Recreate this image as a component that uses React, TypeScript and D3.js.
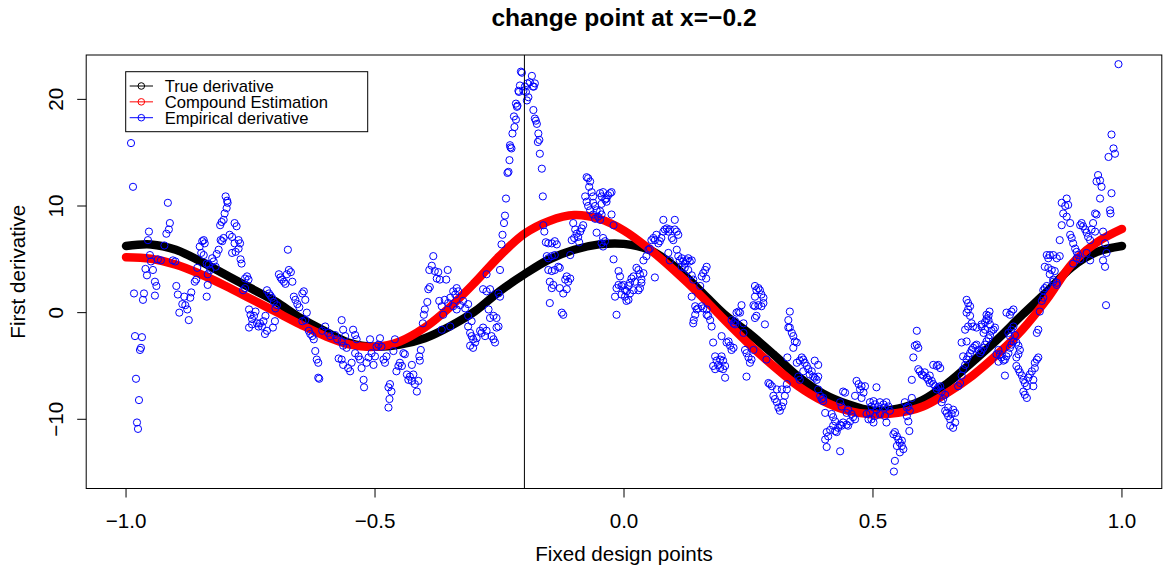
import React from "react";
import * as d3 from "d3";

// ---------- data ----------
const gridX = [
  -1, -0.95, -0.9, -0.85, -0.8, -0.75, -0.7, -0.65, -0.6, -0.55, -0.5, -0.45, -0.4, -0.35, -0.3, -0.25, -0.2,
  -0.15, -0.1, -0.05, 0, 0.05, 0.1, 0.15, 0.2, 0.25, 0.3, 0.35, 0.4, 0.45, 0.5, 0.55, 0.6, 0.65, 0.7, 0.75,
  0.8, 0.85, 0.9, 0.95, 1,
];
const trueDerivative = [
  6.25, 6.4, 5.9, 4.8, 3.55, 2.3, 1.05, -0.5, -1.75, -2.85, -3.2, -3.0, -2.4, -1.3, 0.1, 2.0, 3.6, 5.0, 5.9,
  6.4, 6.45, 5.9, 4.4, 2.2, -0.1, -1.9, -3.9, -6.0, -7.6, -8.6, -9.2, -9.0, -8.2, -6.6, -4.6, -2.5, -0.2,
  2.0, 4.3, 5.7, 6.25,
];
const compoundEstimation = [
  5.2, 5.05, 4.5, 3.6, 2.5, 1.3, 0.1, -1.1, -2.2, -3.0, -3.2, -2.7, -1.4, 0.5, 2.8, 5.3, 7.4, 8.6, 9.15, 8.8,
  7.7, 6.0, 4.0, 1.8, -0.6, -2.9, -5.0, -6.9, -8.3, -9.2, -9.55, -9.4, -8.8, -7.5, -5.9, -3.9, -1.6, 1.3,
  4.6, 6.6, 7.85,
];
const empirical: [number, number][] = [
  [-0.99, 15.9], [-0.986, 11.8], [-0.8, 10.9], [-0.797, 10.5],
  [-0.984, 1.8], [-0.982, -2.2], [-0.968, -2.3], [-0.97, -3.3], [-0.972, -3.5], [-0.98, -6.2], [-0.974, -8.2],
  [-0.978, -10.3], [-0.976, -10.9], [-0.964, 1.8], [-0.966, 1.2], [-0.961, 4.1], [-0.958, 3.5], [-0.954, 7.6],
  [-0.956, 6.8], [-0.952, 5.4], [-0.95, 4.8], [-0.946, 4.0], [-0.942, 2.9], [-0.939, 2.5], [-0.942, 1.6],
  [-0.936, 5.0], [-0.93, 4.9], [-0.923, 6.3], [-0.919, 7.4], [-0.914, 7.8], [-0.912, 8.4], [-0.916, 10.3],
  [-0.906, 4.9], [-0.901, 4.8], [-0.899, 2.5], [-0.896, 1.7], [-0.893, 0.0], [-0.887, 0.8], [-0.883, 1.5],
  [-0.881, 0.7], [-0.877, 0.3], [-0.874, -0.7], [-0.871, 1.4], [-0.869, 1.9], [-0.862, 2.9], [-0.859, 3.1],
  [-0.852, 6.2], [-0.847, 6.7], [-0.844, 6.8], [-0.842, 6.5], [-0.857, 4.2], [-0.849, 5.6], [-0.844, 5.4],
  [-0.838, 4.6], [-0.834, 4.5], [-0.836, 3.6], [-0.831, 4.0], [-0.836, 2.6], [-0.838, 1.5], [-0.827, 5.1],
  [-0.824, 4.8], [-0.82, 4.3], [-0.818, 5.5], [-0.814, 5.9], [-0.811, 8.2], [-0.808, 8.5], [-0.804, 8.7],
  [-0.802, 9.3], [-0.798, 9.8], [-0.796, 10.3], [-0.81, 6.8], [-0.807, 6.7], [-0.804, 7.0], [-0.792, 7.3],
  [-0.787, 7.1], [-0.782, 8.4], [-0.778, 8.1], [-0.774, 6.8], [-0.771, 6.5], [-0.782, 6.5], [-0.787, 5.6],
  [-0.78, 5.7], [-0.774, 6.0], [-0.77, 5.0], [-0.768, 4.6], [-0.761, 3.2], [-0.757, 3.4], [-0.754, 3.1],
  [-0.761, 2.3], [-0.765, 2.1], [-0.753, 0.3], [-0.75, -0.2], [-0.747, -0.6], [-0.743, -0.3], [-0.74, 0.1],
  [-0.737, -1.0], [-0.734, -1.3], [-0.753, -1.4], [-0.747, -1.1], [-0.731, -1.0], [-0.727, -1.3], [-0.724, -0.8],
  [-0.72, -0.3], [-0.717, 2.1], [-0.713, 1.8], [-0.71, 1.6], [-0.707, 1.4], [-0.703, 1.0], [-0.7, 0.4],
  [-0.697, 0.7], [-0.701, -0.8], [-0.705, -1.4], [-0.717, -1.7], [-0.721, -2.0], [-0.693, 3.6], [-0.69, 3.3],
  [-0.687, 3.1], [-0.683, 2.9], [-0.68, 2.7], [-0.677, 3.6], [-0.673, 4.0], [-0.669, 3.8], [-0.666, 2.9],
  [-0.675, 5.9], [-0.663, 1.5], [-0.66, 1.2], [-0.656, 0.8], [-0.652, 0.5], [-0.646, 1.8], [-0.643, 2.0],
  [-0.64, 1.2], [-0.637, 0.0], [-0.646, -0.8], [-0.64, -0.7], [-0.633, -1.7], [-0.63, -2.0], [-0.626, -2.2],
  [-0.623, -2.5], [-0.62, -3.6], [-0.617, -4.4], [-0.614, -4.7], [-0.612, -6.2], [-0.614, -6.1], [-0.606, -1.7],
  [-0.6, -1.3], [-0.594, -1.9], [-0.59, -2.2], [-0.58, -2.1], [-0.576, -2.5], [-0.573, -4.3],
  [-0.567, -0.7], [-0.564, -1.6], [-0.56, -2.2], [-0.544, -1.6], [-0.54, -2.1], [-0.537, -2.5], [-0.567, -2.7],
  [-0.564, -3.1], [-0.557, -3.3], [-0.567, -4.4], [-0.564, -4.9], [-0.554, -5.2], [-0.55, -5.5], [-0.547, -4.7],
  [-0.54, -3.8], [-0.533, -4.1], [-0.53, -4.4], [-0.527, -5.2], [-0.523, -6.3], [-0.522, -7.0], [-0.517, -4.7],
  [-0.513, -4.2], [-0.51, -2.5], [-0.507, -3.8], [-0.503, -4.9], [-0.5, -4.1], [-0.497, -3.2], [-0.493, -3.0],
  [-0.49, -2.4], [-0.487, -3.2], [-0.483, -4.4], [-0.48, -4.7], [-0.477, -4.1], [-0.473, -7.0], [-0.47, -6.7],
  [-0.467, -7.4], [-0.471, -8.1], [-0.473, -8.9], [-0.463, -3.6], [-0.46, -2.5], [-0.457, -5.5], [-0.453, -5.0],
  [-0.45, -4.7], [-0.446, -5.0], [-0.443, -3.8], [-0.44, -3.9], [-0.436, -5.8], [-0.433, -6.3], [-0.43, -6.0],
  [-0.426, -6.4], [-0.423, -5.8], [-0.42, -6.7], [-0.416, -7.4], [-0.413, -6.4], [-0.426, -4.9], [-0.41, -4.5],
  [-0.408, -3.5], [-0.411, -4.1], [-0.404, -1.0], [-0.402, -0.2], [-0.4, 0.3], [-0.395, 1.0], [-0.393, 2.2],
  [-0.39, 2.4], [-0.391, 4.0], [-0.386, 4.4], [-0.383, 5.3], [-0.38, 3.9], [-0.376, 3.2], [-0.373, 3.8],
  [-0.37, 3.1], [-0.354, 4.0], [-0.357, 3.1], [-0.371, 1.1], [-0.366, 0.6], [-0.363, -0.2], [-0.36, 1.2],
  [-0.353, 0.9], [-0.349, 1.4], [-0.343, 2.0], [-0.339, 1.7], [-0.336, 2.3], [-0.333, 2.0], [-0.343, 0.6],
  [-0.336, 0.3], [-0.329, 0.7], [-0.323, 1.1], [-0.319, 0.4], [-0.313, 0.8], [-0.366, -1.6], [-0.349, -1.3],
  [-0.313, -1.3], [-0.309, -1.9], [-0.306, -2.2], [-0.303, -2.5], [-0.299, -2.8], [-0.296, -2.4], [-0.289, -1.7],
  [-0.286, -1.9], [-0.283, -1.4], [-0.279, -2.2], [-0.276, -1.7], [-0.309, -3.1], [-0.303, -3.3], [-0.266, -2.2],
  [-0.262, -2.5], [-0.259, -2.8], [-0.256, -1.4], [-0.252, -1.3], [-0.272, 0.3], [-0.269, -0.5], [-0.262, -0.3],
  [-0.256, -0.5], [-0.313, -0.3], [-0.306, -0.8], [-0.283, 2.2], [-0.276, 2.0], [-0.269, 2.2], [-0.252, 1.8],
  [-0.249, 1.5], [-0.276, 3.6], [-0.249, 4.0],
  [-0.139, 5.4], [-0.145, 5.3], [-0.152, 5.1], [-0.155, 5.3], [-0.152, 4.0], [-0.145, 3.9], [-0.139, 4.0],
  [-0.132, 4.3], [-0.129, 4.2], [-0.149, 2.9], [-0.142, 2.6], [-0.145, 2.3], [-0.149, 0.9], [-0.129, 2.3],
  [-0.122, 1.8], [-0.115, 2.2], [-0.112, 2.9], [-0.108, 3.2], [-0.118, 3.1], [-0.115, 3.4], [-0.125, 0.0],
  [-0.122, -0.2], [-0.108, 5.4],
  [-0.246, 6.4], [-0.244, 7.3], [-0.241, 8.4], [-0.239, 9.1], [-0.237, 10.7], [-0.234, 13.1], [-0.232, 13.2],
  [-0.23, 14.3], [-0.228, 15.5], [-0.226, 15.4], [-0.229, 15.7], [-0.224, 16.8], [-0.22, 17.4], [-0.217, 18.1],
  [-0.221, 18.4], [-0.215, 19.3], [-0.214, 19.4], [-0.217, 19.6], [-0.211, 20.7], [-0.209, 21.3], [-0.212, 20.8],
  [-0.207, 22.6], [-0.205, 22.5], [-0.202, 20.8], [-0.199, 21.2], [-0.197, 20.7], [-0.195, 19.9], [-0.192, 20.2],
  [-0.194, 21.5], [-0.189, 21.6], [-0.185, 22.2], [-0.183, 21.2], [-0.181, 21.2], [-0.179, 21.5], [-0.182, 19.0],
  [-0.179, 18.2], [-0.177, 18.0], [-0.175, 17.7], [-0.172, 16.8], [-0.17, 16.2], [-0.173, 16.0], [-0.169, 14.9],
  [-0.165, 13.5], [-0.163, 10.9], [-0.162, 8.2], [-0.16, 7.6], [-0.157, 6.6], [-0.152, 6.5], [-0.145, 6.5],
  [-0.139, 6.7], [-0.135, 6.4], [-0.102, 8.4], [-0.098, 7.8], [-0.095, 7.4], [-0.092, 7.1], [-0.088, 7.6],
  [-0.085, 7.9], [-0.082, 8.2], [-0.105, 6.8], [-0.1, 7.0], [-0.09, 6.6], [-0.075, 12.7], [-0.072, 12.6],
  [-0.068, 12.3], [-0.07, 11.8], [-0.065, 11.3], [-0.062, 10.9], [-0.078, 10.9], [-0.075, 10.4], [-0.072, 10.0],
  [-0.068, 9.6], [-0.062, 10.3], [-0.058, 10.0], [-0.055, 9.6], [-0.062, 9.2], [-0.058, 8.8], [-0.052, 9.0],
  [-0.055, 7.5],
  [-0.048, 11.2], [-0.045, 10.9], [-0.042, 11.3], [-0.038, 10.6], [-0.035, 10.4], [-0.032, 11.0], [-0.028, 11.2],
  [-0.025, 11.3], [-0.035, 10.7], [-0.045, 10.2], [-0.048, 9.5], [-0.045, 9.2], [-0.048, 8.7], [-0.025, 9.2],
  [-0.021, 8.2], [-0.042, 7.0], [-0.038, 6.7], [-0.045, 6.5], [-0.042, 6.2], [-0.021, 5.0], [-0.011, 3.9],
  [-0.008, 3.4], [-0.015, 2.3], [-0.018, 1.5], [-0.015, -0.2], [-0.011, 2.6], [-0.005, 2.5], [-0.001, 2.6],
  [0.002, 2.1], [0.005, 2.0], [0.009, 2.5], [0.012, 2.8], [0.015, 3.2], [0.019, 3.4], [0.022, 2.9], [0.025, 4.2],
  [0.029, 4.0], [0.032, 3.6], [0.035, 3.1], [0.039, 3.7], [0.035, 2.8], [0.032, 2.3], [0.029, 2.1], [0.019, 2.1],
  [0.012, 1.8], [0.009, 1.2], [0.005, 1.1], [0.002, 1.5], [-0.005, 1.7], [0.062, 3.3], [0.039, 4.9], [0.045, 5.3],
  [0.049, 5.9], [0.052, 6.0], [0.055, 6.8], [0.059, 7.0], [0.062, 6.8], [0.065, 7.3], [0.069, 6.5], [0.072, 6.7],
  [0.075, 7.0], [0.079, 7.6], [0.082, 7.8], [0.086, 7.9], [0.089, 7.6], [0.092, 7.8], [0.096, 7.0], [0.099, 6.8],
  [0.102, 7.8], [0.106, 7.6], [0.109, 7.3], [0.079, 8.7], [0.102, 8.7], [0.089, 5.6], [0.092, 4.9], [0.106, 5.9],
  [0.109, 5.3], [0.112, 4.9], [0.116, 5.1], [0.119, 4.8], [0.122, 4.6], [0.126, 4.9], [0.129, 5.1], [0.132, 4.8],
  [0.136, 4.9], [0.122, 4.2], [0.116, 4.3], [0.129, 4.0], [0.136, 3.5], [0.139, 3.1], [0.153, 2.5], [0.156, 3.4],
  [0.159, 3.7], [0.163, 4.0], [0.166, 4.3], [0.165, 3.2], [0.136, 1.5], [0.143, 0.6], [0.146, 0.3], [0.149, 0.4],
  [0.14, -0.7], [0.143, -0.2], [0.139, -1.0], [0.263, 1.5], [0.266, 2.1], [0.27, 2.3], [0.273, 2.1], [0.276, 1.7],
  [0.28, 1.4], [0.263, 2.5],
  [0.156, 0.6], [0.159, 0.4], [0.166, 0.3], [0.169, -0.3], [0.173, -0.7], [0.176, -1.3], [0.166, -0.2],
  [0.179, -2.8], [0.183, -4.1], [0.186, -4.5], [0.189, -4.9], [0.179, -5.0], [0.183, -5.3], [0.193, -4.4],
  [0.196, -4.1], [0.199, -4.5], [0.203, -5.0], [0.199, -5.3], [0.193, -5.2], [0.196, -2.2], [0.203, -6.1],
  [0.206, -2.8], [0.21, -2.7], [0.213, -3.1], [0.216, -3.5], [0.22, -3.3], [0.216, -0.7], [0.22, -1.0],
  [0.223, -1.1], [0.226, 0.0], [0.23, 0.1], [0.233, 0.0], [0.236, 0.7], [0.24, -1.0], [0.223, -0.8],
  [0.24, -1.9], [0.243, -3.5], [0.246, -3.8], [0.25, -4.2], [0.253, -4.7], [0.256, -4.4], [0.246, -6.0],
  [0.26, -3.5], [0.263, -0.5], [0.266, -0.3], [0.26, 0.7], [0.263, 0.6], [0.27, 0.7], [0.276, 0.6], [0.28, 0.9],
  [0.283, -1.1], [0.286, -4.4], [0.29, -6.6], [0.293, -6.7], [0.297, -6.9], [0.3, -7.8], [0.303, -8.1],
  [0.307, -8.4], [0.31, -8.9], [0.313, -9.2], [0.317, -8.8], [0.32, -8.4], [0.323, -7.8], [0.327, -7.2],
  [0.317, -7.2], [0.307, -7.2], [0.327, -6.7], [0.328, -4.2], [0.33, -0.7], [0.333, -1.4], [0.337, -1.9],
  [0.34, -2.2], [0.343, -2.7], [0.347, -2.8], [0.34, -3.3], [0.33, -1.4], [0.333, 0.1], [0.347, -4.7],
  [0.353, -4.5], [0.357, -4.2], [0.36, -4.4], [0.363, -4.7], [0.367, -5.0], [0.37, -5.3], [0.373, -5.8],
  [0.377, -5.5], [0.38, -6.0], [0.383, -6.1], [0.387, -6.3], [0.39, -6.0], [0.383, -4.5], [0.39, -4.9],
  [0.36, -5.5], [0.35, -6.0], [0.353, -6.3], [0.39, -7.2], [0.394, -7.8], [0.397, -8.1], [0.4, -8.3],
  [0.404, -9.4], [0.4, -8.0], [0.407, -11.2], [0.41, -11.6], [0.414, -11.0], [0.42, -10.6], [0.424, -11.1],
  [0.427, -11.2], [0.43, -10.8], [0.434, -10.5], [0.437, -10.6], [0.44, -10.3], [0.447, -10.5], [0.45, -10.6],
  [0.454, -10.2], [0.404, -11.9], [0.407, -12.6], [0.434, -13.0], [0.417, -9.5], [0.42, -9.8], [0.424, -10.2],
  [0.434, -8.4], [0.437, -8.8], [0.44, -7.4], [0.444, -7.5], [0.447, -9.4], [0.45, -9.1], [0.457, -9.5],
  [0.46, -9.8], [0.464, -10.0], [0.464, -7.8], [0.467, -6.4], [0.471, -6.7], [0.474, -7.2], [0.477, -6.9],
  [0.481, -7.5], [0.484, -6.9], [0.477, -8.0], [0.487, -9.5], [0.491, -10.0],
  [0.494, -8.4], [0.497, -8.8], [0.501, -8.3], [0.504, -8.6], [0.507, -9.1], [0.511, -8.8], [0.514, -8.4],
  [0.521, -8.6], [0.524, -8.9], [0.527, -8.4], [0.531, -8.8], [0.534, -9.2], [0.494, -9.4], [0.497, -10.0],
  [0.501, -10.3], [0.504, -9.7], [0.514, -9.5], [0.524, -9.7], [0.527, -10.3], [0.507, -7.0], [0.541, -11.4],
  [0.544, -11.2], [0.548, -11.6], [0.551, -11.9], [0.554, -12.2], [0.558, -12.5], [0.561, -12.8], [0.548, -12.5],
  [0.554, -13.1], [0.558, -12.0], [0.544, -13.9], [0.542, -14.9], [0.564, -8.4], [0.568, -8.9], [0.571, -8.8],
  [0.574, -9.2], [0.568, -9.7], [0.571, -10.2], [0.573, -11.1], [0.578, -8.0], [0.578, -6.3], [0.581, -4.2],
  [0.584, -3.1], [0.588, -3.0], [0.591, -3.3], [0.588, -1.7], [0.591, -5.3], [0.594, -5.5], [0.598, -5.8],
  [0.601, -5.9], [0.604, -5.6], [0.608, -6.1], [0.611, -6.3], [0.614, -6.6], [0.618, -6.4], [0.621, -6.7],
  [0.625, -6.9], [0.628, -7.2], [0.631, -7.0], [0.635, -6.9], [0.638, -7.4], [0.628, -5.0], [0.631, -4.9],
  [0.635, -5.2], [0.621, -4.9], [0.614, -5.9], [0.638, -8.4], [0.641, -8.1], [0.645, -7.7], [0.645, -9.2],
  [0.648, -9.4], [0.651, -9.7], [0.655, -10.0], [0.658, -9.5], [0.661, -9.1], [0.665, -9.4], [0.655, -10.6],
  [0.661, -10.8], [0.665, -10.3], [0.651, -8.9], [0.671, -6.9], [0.675, -6.6], [0.678, -5.9], [0.681, -5.3],
  [0.685, -4.9], [0.688, -4.4], [0.691, -4.1], [0.695, -3.8], [0.698, -3.5], [0.701, -3.3], [0.705, -3.1],
  [0.708, -3.0], [0.712, -3.5], [0.715, -3.8], [0.718, -3.6], [0.722, -3.3], [0.725, -3.0], [0.728, -2.7],
  [0.732, -2.4], [0.735, -2.1], [0.738, -1.7], [0.742, -1.6], [0.745, -1.4], [0.722, -1.9], [0.725, -1.6],
  [0.718, -1.3], [0.725, -0.9], [0.728, -0.6], [0.732, -0.3], [0.734, 0.1], [0.685, -1.6], [0.691, -1.3],
  [0.698, -1.0], [0.681, -4.1], [0.678, -2.8], [0.688, -2.7], [0.688, 0.0], [0.691, 0.3], [0.695, 0.6],
  [0.691, 0.9], [0.688, 1.2], [0.695, -0.3], [0.701, -1.3], [0.708, -1.4], [0.752, -3.5], [0.755, -3.9],
  [0.758, -4.2], [0.762, -4.5], [0.765, -4.4], [0.768, -4.1], [0.772, -3.8], [0.775, -3.3], [0.778, -3.0],
  [0.782, -2.7], [0.775, -2.2], [0.772, -1.9], [0.778, -1.6], [0.782, -1.3], [0.785, -2.1], [0.788, -2.8],
  [0.792, -3.1], [0.795, -3.5], [0.792, -3.9], [0.788, -4.2], [0.752, -4.6], [0.748, -3.9], [0.765, -5.9],
  [0.768, 0.0], [0.775, -0.2], [0.778, 0.1], [0.782, 0.3], [0.788, -5.0], [0.792, -5.3], [0.795, -5.6],
  [0.799, -5.9], [0.802, -6.3], [0.805, -6.6], [0.809, -6.9], [0.802, -7.4], [0.805, -7.7], [0.809, -8.0],
  [0.812, -6.1], [0.815, -5.8], [0.819, -5.5], [0.822, -6.3], [0.825, -5.2], [0.829, -4.4], [0.832, -4.2],
  [0.825, -4.7], [0.822, -6.9], [0.829, -1.9], [0.832, -1.6], [0.835, 0.1], [0.839, 1.1], [0.842, 2.1],
  [0.845, 2.3], [0.849, 2.5], [0.842, 1.4], [0.862, 2.9], [0.869, 2.6], [0.728, -0.2], [0.732, -0.7],
  [0.718, -1.1], [0.735, -1.1],
  [0.993, 23.3], [0.979, 16.7], [0.983, 15.4], [0.986, 14.9], [0.973, 14.6], [0.952, 12.9], [0.956, 12.4],
  [0.949, 12.3], [0.959, 11.8], [0.956, 10.7], [0.979, 11.2], [0.946, 9.3], [0.949, 9.2], [0.976, 9.6],
  [0.977, 9.3], [0.962, 7.6], [0.966, 6.5], [0.969, 5.6], [0.962, 4.9], [0.966, 4.3], [0.968, 0.7],
  [0.879, 10.3], [0.889, 10.7], [0.886, 10.0], [0.892, 10.1], [0.882, 9.3], [0.889, 9.0], [0.879, 8.2],
  [0.896, 8.4], [0.875, 6.8], [0.896, 7.3], [0.899, 7.0], [0.902, 6.5], [0.906, 6.0], [0.909, 5.7], [0.912, 5.4],
  [0.916, 8.2], [0.919, 8.4], [0.922, 8.1], [0.926, 7.8], [0.929, 7.5], [0.932, 7.1], [0.936, 6.8], [0.939, 7.8],
  [0.942, 8.4], [0.946, 7.6], [0.909, 5.1], [0.902, 4.6], [0.916, 5.0], [0.929, 5.6], [0.936, 4.9],
  [0.849, 5.4], [0.852, 5.1], [0.855, 5.4], [0.862, 5.4], [0.869, 5.1], [0.875, 5.3], [0.845, 4.3],
  [0.852, 4.2], [0.859, 4.0], [0.865, 3.9], [0.855, 3.6], [0.862, 3.1], [0.869, 2.8],
];

const xTicks = [-1, -0.5, 0, 0.5, 1];
const yTicks = [-10, 0, 10, 20];
const changePoint = -0.2;
const legendItems = [
  { label: "True derivative", color: "#000000" },
  { label: "Compound Estimation", color: "#FF0000" },
  { label: "Empirical derivative", color: "#0000FF" },
];

// ---------- layout ----------
const W = 1163;
const H = 571;
const plotLeft = 86.2;
const plotRight = 1161.8;
const plotTop = 55;
const plotBottom = 488.5;
const FONT = "'Liberation Sans', Arial, Helvetica, sans-serif";

const fmtTick = (v: number, digits: number) => v.toFixed(digits).replace("-", "\u2212");

export default function App() {
  const x = d3.scaleLinear().domain([-1.08, 1.08]).range([plotLeft, plotRight]);
  const y = d3.scaleLinear().domain([-16.49, 24.16]).range([plotBottom, plotTop]);

  const line = d3
    .line<number>()
    .x((_, i) => x(gridX[i]))
    .y((d) => y(d))
    .curve(d3.curveCatmullRom.alpha(0.5));

  const r = 3.6;

  return (
    <svg
      width={W}
      height={H}
      style={{ position: "absolute", left: 0, top: 0, background: "#fff" }}
      fontFamily={FONT}
    >
      <rect x={0} y={0} width={W} height={H} fill="#fff" />
      <defs>
        <clipPath id="plotClip">
          <rect x={plotLeft} y={plotTop} width={plotRight - plotLeft} height={plotBottom - plotTop} />
        </clipPath>
      </defs>

      {/* title */}
      <text x={(plotLeft + plotRight) / 2} y={26} textAnchor="middle" fontSize={24.6} fontWeight="bold">
        change point at x={"\u2212"}0.2
      </text>

      <g clipPath="url(#plotClip)">
        <path d={line(trueDerivative) || ""} fill="none" stroke="#000" strokeWidth={8.5} strokeLinecap="round" />
        <path d={line(compoundEstimation) || ""} fill="none" stroke="#FF0000" strokeWidth={8.5} strokeLinecap="round" />
        {empirical.map(([px, py], i) => (
          <circle key={i} cx={x(px)} cy={y(py)} r={r} fill="none" stroke="#0000FF" strokeWidth={1} />
        ))}
      </g>

      {/* change point line */}
      <line x1={x(changePoint)} x2={x(changePoint)} y1={plotTop} y2={plotBottom} stroke="#000" strokeWidth={1} />

      {/* box */}
      <rect
        x={plotLeft}
        y={plotTop}
        width={plotRight - plotLeft}
        height={plotBottom - plotTop}
        fill="none"
        stroke="#000"
        strokeWidth={1}
      />

      {/* x axis */}
      {xTicks.map((t) => (
        <g key={"xt" + t}>
          <line x1={x(t)} x2={x(t)} y1={plotBottom} y2={plotBottom + 9} stroke="#000" />
          <text x={x(t)} y={528} textAnchor="middle" fontSize={20.6}>
            {fmtTick(t, 1)}
          </text>
        </g>
      ))}
      <text x={(plotLeft + plotRight) / 2} y={561} textAnchor="middle" fontSize={20.6}>
        Fixed design points
      </text>

      {/* y axis */}
      {yTicks.map((t) => (
        <g key={"yt" + t}>
          <line x1={plotLeft - 9} x2={plotLeft} y1={y(t)} y2={y(t)} stroke="#000" />
          <text
            transform={`translate(63,${y(t)}) rotate(-90)`}
            textAnchor="middle"
            fontSize={20.6}
          >
            {fmtTick(t, 0)}
          </text>
        </g>
      ))}
      <text
        transform={`translate(25,${(plotTop + plotBottom) / 2}) rotate(-90)`}
        textAnchor="middle"
        fontSize={20.6}
      >
        First derivative
      </text>

      {/* legend */}
      <rect x={125.7} y={71.7} width={242} height={60} fill="#fff" stroke="#000" strokeWidth={1} />
      {legendItems.map((it, i) => {
        const cy = 86 + i * 15.85;
        return (
          <g key={it.label}>
            <line x1={129.7} x2={153} y1={cy} y2={cy} stroke={it.color} strokeWidth={1} />
            <circle cx={141.3} cy={cy} r={3.3} fill="none" stroke={it.color} strokeWidth={1} />
            <text x={164.7} y={cy + 5.8} fontSize={16.6}>
              {it.label}
            </text>
          </g>
        );
      })}
    </svg>
  );
}
